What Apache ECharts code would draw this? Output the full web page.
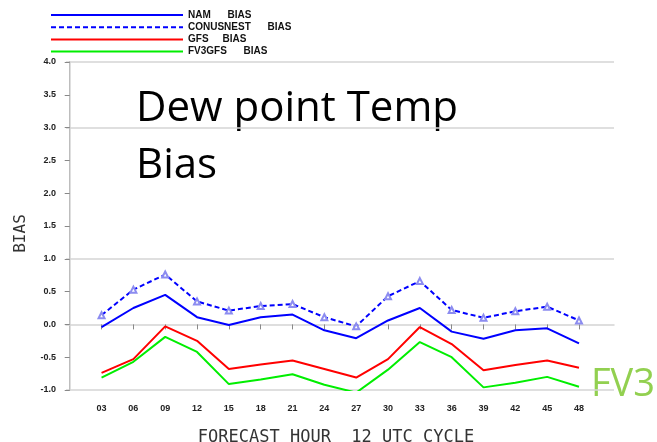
<!DOCTYPE html>
<html>
<head>
<meta charset="utf-8">
<script src="https://cdn.jsdelivr.net/npm/echarts@6/dist/echarts.min.js"></script>
<style>
html,body{margin:0;padding:0;background:#fff;}
#chart{width:657px;height:442px;}
</style>
</head>
<body>
<div id="chart"></div>
<script>
const hours = [3, 6, 9, 12, 15, 18, 21, 24, 27, 30, 33, 36, 39, 42, 45, 48];
const hourLabels = ['03','06','09','12','15','18','21','24','27','30','33','36','39','42','45','48'];
const yTicks = [-1.0, -0.5, 0.0, 0.5, 1.0, 1.5, 2.0, 2.5, 3.0, 3.5, 4.0];
const seriesNames = ['NAM      BIAS', 'CONUSNEST      BIAS', 'GFS     BIAS', 'FV3GFS      BIAS'];
const namBias = [-0.04, 0.25, 0.45, 0.11, -0.01, 0.11, 0.15, -0.09, -0.21, 0.06, 0.25, -0.11, -0.22, -0.09, -0.06, -0.29];
const conusnestBias = [0.14, 0.53, 0.76, 0.35, 0.21, 0.28, 0.31, 0.11, -0.03, 0.43, 0.66, 0.22, 0.10, 0.20, 0.27, 0.06];
const gfsBias = [-0.74, -0.53, -0.03, -0.25, -0.68, -0.61, -0.55, -0.68, -0.81, -0.53, -0.04, -0.30, -0.70, -0.62, -0.55, -0.66];
const fv3gfsBias = [-0.81, -0.57, -0.19, -0.42, -0.91, -0.84, -0.76, -0.92, -1.04, -0.69, -0.27, -0.50, -0.96, -0.89, -0.80, -0.95];

const pairs = arr => hours.map((h, i) => [h, arr[i]]);

const chart = echarts.init(document.getElementById('chart'), null, {renderer: 'canvas'});
const labelFont = {fontFamily: '"Liberation Sans", Arial, sans-serif', fontWeight: 'bold', fontSize: 9, color: '#222'};

chart.setOption({
  animation: false,
  backgroundColor: '#fff',
  grid: {left: 66, right: 43, top: 62, bottom: 52, containLabel: false, outerBoundsMode: 'none'},
  legend: {
    orient: 'vertical', left: 45, top: 5,
    itemWidth: 132, itemHeight: 10, itemGap: 2.2,
    data: seriesNames.map(n => ({name: n, itemStyle: {opacity: 0}})),
    textStyle: {fontFamily: '"Liberation Sans", Arial, sans-serif', fontWeight: 'bold', fontSize: 10, color: '#111', lineHeight: 10}
  },
  xAxis: [{
    type: 'value', min: -0.35, max: 51.3, position: 'bottom', offset: 6,
    axisLine: {show: false},
    axisTick: {show: true, length: 5, customValues: hours, lineStyle: {color: '#888'}},
    splitLine: {show: false},
    axisLabel: Object.assign({customValues: hours, margin: 8,
      formatter: v => { const i = hours.indexOf(Math.round(v)); return i >= 0 ? hourLabels[i] : ''; }}, labelFont),
    name: 'FORECAST HOUR  12 UTC CYCLE', nameLocation: 'middle', nameGap: 33,
    nameTextStyle: {fontFamily: '"DejaVu Sans Mono", monospace', fontSize: 17, color: '#333', padding: [0, 8, 0, 0]}
  }, {
    type: 'value', min: -0.35, max: 51.3, position: 'top',
    axisLine: {show: true, lineStyle: {color: '#d4d4d4', width: 1.5}},
    axisTick: {show: false}, axisLabel: {show: false}, splitLine: {show: false}
  }],
  yAxis: [{
    type: 'value', min: -1, max: 4, position: 'left',
    axisLine: {show: true, lineStyle: {color: '#777', width: 1}},
    axisTick: {show: true, length: 5, customValues: yTicks, lineStyle: {color: '#888'}},
    splitLine: {show: false},
    axisLabel: Object.assign({customValues: yTicks, margin: 10, formatter: v => v.toFixed(1)}, labelFont),
    name: 'BIAS', nameLocation: 'middle', nameGap: 37, nameRotate: 90,
    nameTextStyle: {fontFamily: '"DejaVu Sans Mono", monospace', fontSize: 16, color: '#333', padding: [0, 15, 0, 0]}
  }, {
    type: 'value', min: -1, max: 4, interval: 2, position: 'right',
    axisLine: {show: true, lineStyle: {color: '#d4d4d4', width: 1.5}},
    axisTick: {show: false}, axisLabel: {show: false},
    splitLine: {show: true, lineStyle: {color: '#d4d4d4', width: 1.5}}
  }],
  series: [
    {name: seriesNames[0], type: 'line', data: pairs(namBias), symbol: 'none',
     lineStyle: {color: '#0000ff', width: 2}, itemStyle: {color: '#0000ff'}},
    {name: seriesNames[1], type: 'line', data: pairs(conusnestBias), symbol: 'emptyTriangle', symbolSize: 6,
     lineStyle: {color: '#0000ff', width: 2, type: [5, 3]}, itemStyle: {color: '#8c8cf0', borderWidth: 1}},
    {name: seriesNames[2], type: 'line', data: pairs(gfsBias), symbol: 'none',
     lineStyle: {color: '#ff0000', width: 2}, itemStyle: {color: '#ff0000'}},
    {name: seriesNames[3], type: 'line', data: pairs(fv3gfsBias), symbol: 'none',
     lineStyle: {color: '#00ee00', width: 2}, itemStyle: {color: '#00ee00'}}
  ],
  graphic: [
    {type: 'text', left: 136, top: 81, silent: true,
     style: {text: 'Dew point Temp\nBias', font: '42px "Open Sans", sans-serif', lineHeight: 57, fill: '#000'}},
    {type: 'text', left: 591, top: 365, silent: true,
     style: {text: 'FV3', font: '38px "Open Sans", sans-serif', lineHeight: 40, fill: '#92d050'}}
  ]
});
</script>
</body>
</html>
